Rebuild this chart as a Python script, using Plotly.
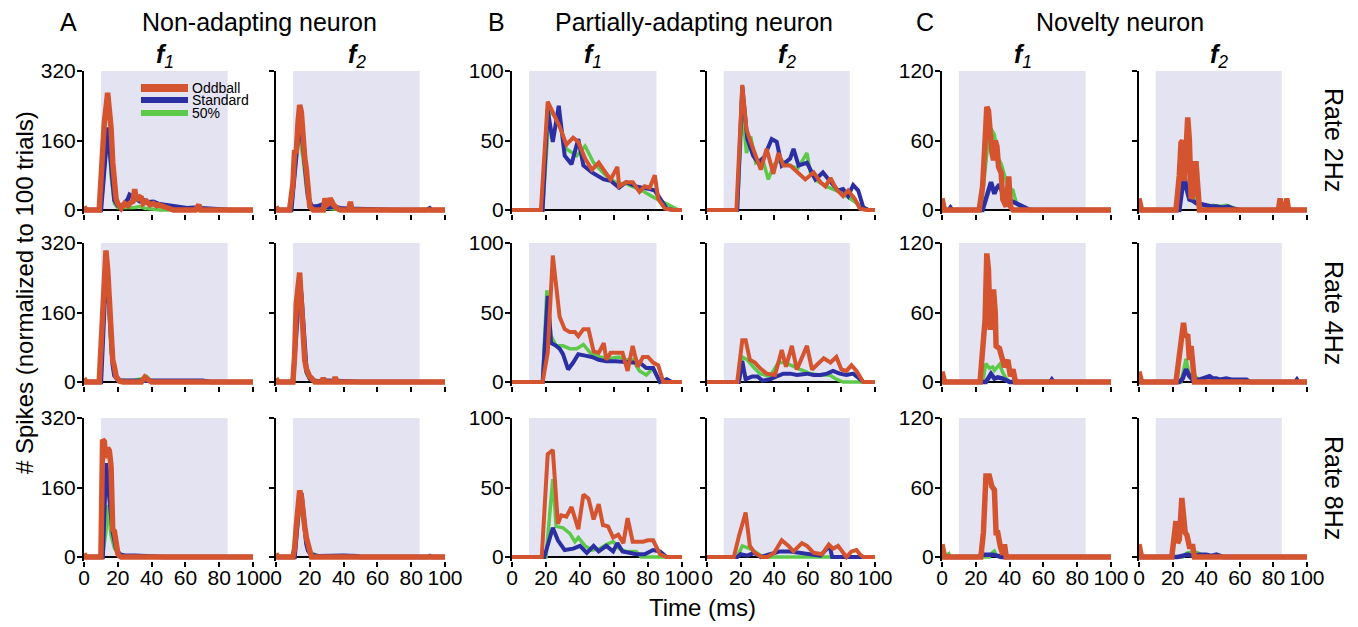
import plotly.graph_objects as go
from plotly.subplots import make_subplots

# ---------------- data: (time ms, spikes) vertices ----------------
# Neuron A: non-adapting
A_f1_2hz_odd = [(0,8),(1,0),(9,0),(11,120),(12,200),(14,270),(15,230),(16,190),(17,110),(18,54),(19,25),(20,15),(22,4),(24,15),(26,10),(27,15),(29,20),(30,48),(31,23),(33,30),(34,28),(35,15),(37,20),(39,12),(41,15),(43,10),(44,12),(47,8),(50,4),(53,0),(66,0),(67,5),(68,12),(69,0),(100,0)]
A_f1_2hz_std = [(0,4),(1,0),(10,0),(12,110),(13,170),(14,190),(15,150),(16,100),(17,50),(18,23),(20,10),(22,8),(24,15),(26,25),(27,35),(29,30),(31,25),(33,20),(35,23),(38,18),(41,19),(44,14),(47,12),(50,10),(53,8),(57,5),(61,4),(65,5),(69,4),(75,3),(84,2),(86,0),(100,0)]
A_f1_2hz_p50 = [(0,2),(1,0),(10,0),(12,100),(14,180),(15,150),(16,80),(18,15),(20,5),(30,6),(33,8),(36,4),(40,2),(45,0),(100,0)]
A_f2_2hz_odd = [(0,8),(1,0),(8,0),(10,60),(11,138),(12,130),(13,200),(14,242),(15,225),(16,161),(17,120),(18,92),(19,23),(20,8),(22,0),(28,0),(29,27),(30,12),(31,15),(32,27),(33,20),(34,12),(36,4),(38,0),(43,0),(44,19),(45,0),(100,0)]
A_f2_2hz_std = [(0,3),(1,0),(9,0),(11,90),(13,170),(14,180),(15,175),(16,150),(17,100),(18,60),(19,30),(21,8),(24,8),(27,12),(29,10),(31,6),(34,8),(38,4),(42,3),(46,2),(60,1),(70,0),(89,0),(91,4),(92,0),(100,0)]
A_f2_2hz_p50 = [(0,2),(1,0),(9,0),(11,80),(13,160),(14,170),(16,120),(18,50),(20,10),(23,3),(27,5),(30,4),(34,3),(40,0),(100,0)]
A_f1_4hz_odd = [(0,9),(1,0),(9,0),(11,150),(12,260),(13,303),(14,259),(15,180),(16,105),(17,51),(18,35),(19,13),(21,2),(23,0),(34,0),(36,11),(38,5),(40,0),(100,0)]
A_f1_4hz_std = [(0,3),(1,0),(10,0),(12,180),(13,260),(14,240),(15,170),(16,100),(17,40),(18,15),(20,5),(22,3),(30,3),(35,2),(40,4),(50,3),(60,2),(70,3),(75,0),(100,0)]
A_f1_4hz_p50 = [(0,2),(1,0),(10,0),(12,200),(13,280),(14,230),(15,150),(16,70),(18,20),(20,5),(25,3),(30,4),(35,8),(37,13),(39,5),(42,2),(50,0),(100,0)]
A_f2_4hz_odd = [(0,9),(1,0),(10,0),(11,60),(12,180),(13,240),(14,252),(15,182),(16,110),(17,51),(18,30),(19,17),(20,12),(21,9),(23,0),(27,0),(28,9),(29,0),(34,0),(35,11),(36,0),(100,0)]
A_f2_4hz_std = [(0,3),(1,0),(10,0),(12,120),(14,230),(15,200),(16,130),(17,60),(18,25),(20,8),(22,3),(25,2),(30,3),(40,2),(50,0),(100,0)]
A_f2_4hz_p50 = [(0,2),(1,0),(10,0),(12,130),(14,220),(15,170),(16,100),(18,20),(20,6),(24,3),(30,2),(40,0),(100,0)]
A_f1_8hz_odd = [(0,8),(1,0),(10,0),(11,270),(12,266),(13,228),(14,251),(15,245),(16,209),(17,63),(18,59),(19,25),(20,8),(21,2),(22,0),(100,0)]
A_f1_8hz_std = [(0,3),(1,0),(11,0),(12,100),(13,216),(14,180),(15,130),(16,90),(17,60),(18,40),(19,20),(21,6),(24,3),(30,3),(35,2),(40,3),(45,2),(47,0),(100,0)]
A_f1_8hz_p50 = [(0,2),(1,0),(11,0),(13,60),(14,120),(15,90),(16,50),(18,20),(20,8),(22,3),(25,0),(100,0)]
A_f2_8hz_odd = [(0,8),(1,0),(10,0),(11,20),(12,70),(13,130),(14,153),(15,140),(16,94),(17,70),(18,44),(19,25),(20,5),(21,0),(100,0)]
A_f2_8hz_std = [(0,3),(1,0),(11,0),(13,100),(14,140),(15,147),(16,110),(17,60),(18,30),(19,15),(21,5),(25,2),(30,3),(35,2),(40,3),(48,2),(50,0),(90,0),(91,2),(92,0),(100,0)]
A_f2_8hz_p50 = [(0,2),(1,0),(11,0),(13,80),(15,130),(16,100),(18,30),(20,10),(22,8),(24,3),(28,0),(100,0)]

# Neuron B: partially adapting
B_f1_2hz_odd = [(0,0),(17,0),(21,78),(24,70),(28,60),(32,47),(36,52),(39,49),(43,37),(47,29),(51,34),(55,27),(58,22),(62,31),(63,17),(67,20),(71,20),(75,13),(78,17),(81,16),(84,25),(86,8),(90,1),(95,0),(100,0)]
B_f1_2hz_std = [(0,0),(18,0),(21,72),(24,49),(27.5,75),(31,39),(35,33),(39,51),(42,32),(47,27),(54,22),(58,21),(63,16),(67,20),(73,17),(78,16),(81,15),(84,14),(87,8),(91,1),(95,0),(100,0)]
B_f1_2hz_p50 = [(0,0),(18,0),(22,72),(28,63),(32,44),(38,39),(43,46),(48,34),(55,25),(62,19),(67,19),(73,16),(78,13),(82,10),(87,7),(92,4),(96,1),(98,0),(100,0)]
B_f2_2hz_odd = [(0,0),(17.5,0),(21,90),(23.5,58),(26,49),(29,38),(32,29),(35.5,44),(39.5,26),(42.5,41),(45.5,32),(49.5,32),(55.5,25),(58.5,22),(63.5,27),(67.5,20),(70.5,17),(73.5,23),(77,15),(81,10),(84,14),(88,8),(91,1),(95,0),(100,0)]
B_f2_2hz_std = [(0,0),(18,0),(21,89),(24,51),(27.5,39),(30.5,34),(34,38),(38.5,51),(41.5,49),(44.5,32),(49.5,37),(51.5,44),(54.5,32),(59.5,34),(64.5,22),(69,27),(73,21),(78,14),(81,15),(84,10),(87,18),(90,14),(93,2),(96,0),(100,0)]
B_f2_2hz_p50 = [(0,0),(18,0),(21,72),(23.5,41),(26,53),(29,34),(33,37),(36.5,22),(40,33),(44,36),(49,32),(54,30),(59.5,41),(61.5,27),(65.5,21),(71,17),(77,14),(83,10),(89,5),(94,1),(97,0),(100,0)]
B_f1_4hz_odd = [(0,0),(18,0),(21,21),(24,91),(26,69),(28,47),(31,38),(34,36),(37,36),(39,33),(42,38),(45,38),(48,22),(51,21),(54,28),(55.5,16),(58,21),(63,21),(65,21),(68,8),(71,26),(74,11),(77,18),(80,18),(83,14),(86,12),(89,0),(100,0)]
B_f1_4hz_std = [(0,0),(18,0),(21,62),(23,28),(26,26),(28,24),(30,20),(33,9),(36,14),(39,20),(43,19),(47,18),(51,16),(55.5,15),(61,15),(67,14),(71,14),(75,14),(79,10),(83,10),(87,0),(91,2),(94,0),(100,0)]
B_f1_4hz_p50 = [(0,0),(18,0),(20.5,66),(23,33),(26,26),(30,26),(34,24),(38,24),(42,27),(46,21),(51.5,18),(57,17),(63,18),(67,16),(71,16),(75,8),(79,5),(83,10),(87,0),(100,0)]
B_f2_4hz_odd = [(0,0),(18,0),(21,30),(23,30),(25.5,16),(28.5,14),(31.5,10),(35.5,6),(40.5,5),(44.5,23),(47,11),(50.5,26),(53.5,9),(59.5,26),(62.5,9),(66.5,14),(69.5,17),(73.5,14),(77,18),(80,9),(83,8),(86,12),(89,8),(93,0),(100,0)]
B_f2_4hz_std = [(0,0),(19,0),(21,15),(23,2),(27,4),(30,4),(33,1),(37.5,2),(41.5,4),(45.5,6),(49.5,6),(53.5,5),(59.5,6),(63.5,5),(67.5,5),(71.5,6),(75,8),(79,6),(83,5),(87,6),(90,3),(93,0),(100,0)]
B_f2_4hz_p50 = [(0,0),(19,0),(21,18),(24,16),(27.5,11),(31.5,6),(37.5,4),(42.5,14),(46.5,14),(51.5,11),(55.5,9),(61.5,6),(67.5,5),(73,5),(77,2),(81,0),(100,0)]
B_f1_8hz_odd = [(0,0),(17.5,0),(21,74),(24,77),(27,24),(29,30),(32,29),(35,36),(39,20),(42,45),(45,42),(48,27),(51,38),(53.5,23),(56.5,22),(59.5,14),(62.5,16),(65.5,10),(68,28),(71,11),(77,11),(80,12),(83,12),(87,2),(91,0),(100,0)]
B_f1_8hz_std = [(0,0),(19,0),(24,21),(27,12),(31,5),(36,6),(40,8),(44,3),(48,8),(51,4),(55.5,8),(59.5,4),(62,10),(65,4),(69,3),(73,2),(78,2),(83,5),(87,4),(91,0),(100,0)]
B_f1_8hz_p50 = [(0,0),(20,0),(24,56),(26,22),(30,21),(34,17),(37,11),(39,14),(43,8),(47,5),(51.5,6),(55.5,9),(59.5,11),(63,6),(67,4),(73,4),(76,0),(100,0)]
B_f2_8hz_odd = [(0,0),(16,0),(19,15),(23,32),(25.5,8),(28.5,3),(32.5,0),(36,0),(40,3),(44.5,12),(48.5,8),(51.5,4),(56.5,10),(59.5,8),(63.5,3),(68.5,2),(72.5,9),(75,6),(78,8),(81,3),(83,0),(86,4),(89,5),(91,2),(93,0),(100,0)]
B_f2_8hz_std = [(0,0),(18,0),(20,2),(24,1),(28,3),(32,0),(37.5,2),(43.5,4),(49.5,4),(55.5,3),(61.5,2),(67.5,1),(73,8),(74.5,0),(100,0)]
B_f2_8hz_p50 = [(0,0),(18,0),(21,8),(25.5,6),(29.5,3),(33.5,0),(100,0)]

# Neuron C: novelty
C_f1_2hz_odd = [(0,10),(1.5,0),(22,0),(24,20),(25.5,60),(26.5,89),(27.5,86),(28.5,60),(29.5,50),(30.5,43),(31.5,60),(32.5,55),(33.5,37),(35,32),(36,9),(38,3),(39.5,29),(40.5,3),(42,0),(100,0)]
C_f1_2hz_std = [(0,0),(4,0),(5,2),(6,0),(24,0),(26,10),(28,20),(29,24),(31,14),(32,18),(34,22),(36,14),(38,10),(41,8),(44,6),(47,3),(50,1),(52,0),(100,0)]
C_f1_2hz_p50 = [(0,2),(1,0),(23,0),(25,30),(27,55),(29,70),(31,65),(33,45),(35,40),(37,30),(39,20),(42,17),(44,6),(47,2),(50,0),(100,0)]
C_f2_2hz_odd = [(0,10),(1.5,0),(22,0),(24,30),(25,58),(26,60),(27,25),(28,70),(29,80),(30,60),(31,10),(32,12),(33,40),(34,40),(35,10),(36,0),(83,0),(84,10),(85,0),(87,0),(88,10),(89,0),(100,0)]
C_f2_2hz_std = [(0,1),(1,0),(24,0),(26,20),(27,32),(28,20),(30,9),(32,8),(34,6),(37,5),(40,4),(43,3),(46,3),(50,2),(53,3),(56,1),(60,0),(100,0)]
C_f2_2hz_p50 = [(0,2),(1,0),(24,0),(26,30),(27,46),(28,50),(30,40),(32,32),(34,9),(36,5),(40,3),(44,4),(48,3),(52,4),(56,2),(60,0),(100,0)]
C_f1_4hz_odd = [(0,9),(1.5,0),(22.5,0),(24,31),(25.5,54),(26.5,111),(27.5,97),(28.5,45),(29.5,68),(30.5,80),(31.5,60),(32,31),(34,29),(35.5,20),(37,13),(39,19),(40.5,5),(42,11),(43.5,0),(100,0)]
C_f1_4hz_std = [(0,1),(1,0),(26,0),(27,3),(29,7),(31,3),(33,4),(36,3),(38,2),(40,0),(64,0),(65,2),(66,0),(100,0)]
C_f1_4hz_p50 = [(0,2),(1,0),(24,0),(26,16),(28,12),(30,13),(31,10),(34,15),(36,8),(38,3),(40,0),(100,0)]
C_f2_4hz_odd = [(0,9),(1.5,0),(22,0),(24,25),(25.5,45),(26.5,51),(27.5,39),(29,41),(30,19),(31,31),(32,16),(33,0),(100,0)]
C_f2_4hz_std = [(0,1),(1,0),(24,0),(26,3),(28,11),(30,5),(32,2),(36,2),(40,4),(42,5),(44,3),(46,3),(48,2),(50,3),(52,3),(55,2),(58,2),(62,2),(64,2),(66,0),(93,0),(94,2),(95,0),(100,0)]
C_f2_4hz_p50 = [(0,2),(1,0),(25,0),(27,16),(28,20),(30,5),(32,8),(34,4),(36,2),(38,0),(100,0)]
C_f1_8hz_odd = [(0,11),(1.5,0),(23,0),(24.5,21),(26,70),(28,70),(29.5,61),(31,58),(32,21),(33,21),(34.5,9),(36,2),(37,11),(38,0),(100,0)]
C_f1_8hz_std = [(0,1),(1,0),(21,0),(22,1),(24,2),(27,2),(30,2),(33,1),(35,0),(100,0)]
C_f1_8hz_p50 = [(0,3),(1,0),(3,2),(4,3),(5,0),(28,0),(30,4),(31,5),(32,2),(34,0),(100,0)]
C_f2_8hz_odd = [(0,11),(1.5,0),(19.5,0),(21,20),(22,31),(23,12),(24,15),(25.5,51),(26.5,35),(27.5,21),(28.5,19),(30,9),(32,9),(33,0),(100,0)]
C_f2_8hz_std = [(0,1),(1,0),(23,0),(26,1),(29,2),(32,1),(36,2),(40,2),(43,1),(46,2),(48,1),(50,0),(100,0)]
C_f2_8hz_p50 = [(0,2),(1,0),(26,0),(28,3),(30,4),(32,3),(34,4),(36,3),(38,1),(40,0),(100,0)]

neurons = ["A", "B", "C"]
neuron_titles = ["Non-adapting neuron", "Partially-adapting neuron", "Novelty neuron"]
freqs = ["f1", "f2"]
rates = ["2hz", "4hz", "8hz"]
rate_labels = ["Rate 2Hz", "Rate 4Hz", "Rate 8Hz"]
series_names = ["50%", "Standard", "Oddball"]
series_keys = ["p50", "std", "odd"]
y_max = {"A": 320, "B": 100, "C": 120}
y_ticks = {"A": [0, 160, 320], "B": [0, 50, 100], "C": [0, 60, 120]}
x_ticks = [0, 20, 40, 60, 80, 100]
stim_on, stim_off = 10, 85

colors = {"odd": "#D4542F", "std": "#2B2FA3", "p50": "#5DC94B"}
shade = "#E4E3F2"

W, H = 1358, 627
col_px = [(84, 253), (276, 445), (512, 682), (707, 875), (942, 1111), (1139, 1307)]
row_top = [71, 243, 418]
row_zero = [210, 382, 557]
PAD = 0.03
font = "Liberation Sans, Arial"

fig = make_subplots(rows=3, cols=6)
g = globals()

for r in range(3):
    for c in range(6):
        n = neurons[c // 2]
        f = freqs[c % 2]
        idx = r * 6 + c + 1
        ymax = y_max[n]
        for key, name in zip(series_keys, series_names):
            data = g[f"{n}_{f}_{rates[r]}_{key}"]
            if n == "B":
                w = {"odd": 4, "std": 4, "p50": 3.5}[key]
            else:
                w = {"odd": 5.5, "std": 4.5, "p50": 3.5}[key]
            fig.add_trace(go.Scatter(
                x=[p[0] for p in data], y=[p[1] for p in data], mode="lines",
                line=dict(color=colors[key], width=w), name=name, showlegend=False,
                hoverinfo="skip"), row=r + 1, col=c + 1)
        fig.add_shape(type="rect", xref=f"x{idx}", yref=f"y{idx}",
                      x0=stim_on, x1=stim_off, y0=0, y1=ymax,
                      fillcolor=shade, line_width=0, layer="below")
        xa = "xaxis" if idx == 1 else f"xaxis{idx}"
        ya = "yaxis" if idx == 1 else f"yaxis{idx}"
        x0p, x1p = col_px[c]
        h = row_zero[r] - row_top[r]
        ybot = row_zero[r] + PAD * h
        fig.layout[xa].update(
            domain=[x0p / W, x1p / W], range=[0, 100], showgrid=False, zeroline=False,
            showline=False, ticks="outside", ticklen=5, tickwidth=2, tickcolor="black",
            tickvals=x_ticks, showticklabels=(r == 2), ticklabelstandoff=-7,
            automargin=False,
            tickfont=dict(size=21, color="black", family=font))
        fig.layout[ya].update(
            domain=[1 - ybot / H, 1 - row_top[r] / H], range=[-PAD * ymax, ymax],
            showgrid=False, zeroline=True, zerolinecolor="black", zerolinewidth=2,
            showline=True, linecolor="black", linewidth=2, layer="below traces",
            ticks="outside", ticklen=5, tickwidth=2, tickcolor="black",
            tickvals=y_ticks[n], showticklabels=(c % 2 == 0), ticklabelstandoff=-3,
            automargin=False,
            tickfont=dict(size=21, color="black", family=font))

ann = []
def A(text, x, y, size, **kw):
    d = dict(text=text, x=x / W, y=1 - y / H, xref="paper", yref="paper",
             showarrow=False, font=dict(size=size, color="black", family=font),
             xanchor="center", yanchor="middle")
    d.update(kw)
    ann.append(d)

# panel letters and titles
for letter, lx, title, tx in zip(neurons, [68, 497, 925], neuron_titles, [259, 694, 1120]):
    A(letter, lx, 22, 25)
    A(title, tx, 22, 25)
# f1 / f2 headers
for c in range(6):
    cx = (col_px[c][0] + col_px[c][1]) / 2
    sub = "1" if c % 2 == 0 else "2"
    A(f"<b><i>f</i></b><i><sub>{sub}</sub></i>", cx - 4, 56, 25)
# rate labels
for lab, ry in zip(rate_labels, [140, 313, 488]):
    A(lab, 1334, ry, 25, textangle=90)
# axis titles
A("# Spikes (normalized to 100 trials)", 24, 293, 24, textangle=-90)
A("Time (ms)", 702, 607, 24)

# legend (in first panel)
leg_y = [88, 100, 113]
leg_w = [8, 6, 6]
for name, key, ly, lw in zip(["Oddball", "Standard", "50%"], ["odd", "std", "p50"], leg_y, leg_w):
    fig.add_shape(type="line", xref="paper", yref="paper", x0=141 / W, x1=188 / W,
                  y0=1 - ly / H, y1=1 - ly / H,
                  line=dict(color=colors[key], width=lw), layer="above")
    A(name, 190, ly, 14, xanchor="left")

fig.update_layout(
    width=W, height=H, margin=dict(l=0, r=0, t=0, b=0, pad=0, autoexpand=False),
    plot_bgcolor="white", paper_bgcolor="white", showlegend=False,
    annotations=ann, font=dict(family=font, color="black"))

fig.write_html("out.html", config={"displayModeBar": False},
               post_script="document.body.style.margin='0';document.body.style.overflow='hidden';")
